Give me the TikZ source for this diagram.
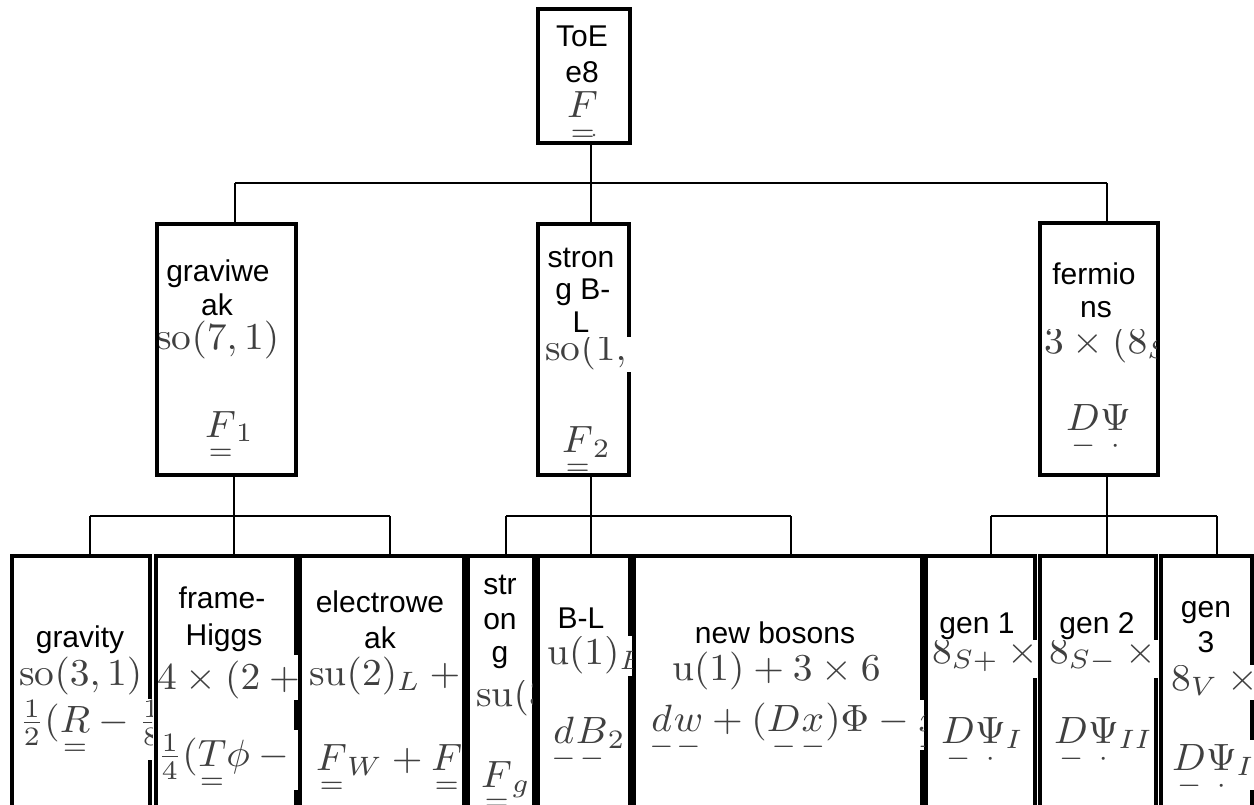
\documentclass[tikz,border=0pt]{standalone}
\usepackage{amsmath}
\usepackage{graphicx}
\usepackage{fontspec}
\newfontfamily\arialf{Liberation Sans}
\newcommand\mclip[8]{%
  \begin{scope}
    \clip (#2,#4) rectangle (#3,#5);
    \fill[white] (#2,#4) rectangle (#3,#5);
    \node[mth] (#1) at (#6,#7) {\scalebox{3.95}[3.8]{$#8$}};
  \end{scope}}
\newcommand\uF[1]{\smash[b]{\underset{#1}{F}}}
\newcommand\uD{\smash[b]{\underset{-}{D}}}
\newcommand\uPsi{\smash[b]{\underset{\cdot}{\Psi}}}
\newcommand\ul[1]{\smash[b]{\underset{-}{#1}}}
\tikzset{
  box/.style={draw=black, line width=4pt, rectangle, inner sep=0pt, outer sep=0pt},
  conn/.style={line width=2pt},
  lbl/.style={font=\arialf\fontsize{30}{34}\selectfont, anchor=base, inner sep=0pt},
  mth/.style={font=\fontsize{10}{12}\selectfont, anchor=base west, inner sep=0pt, text=black!75}
}
\begin{document}
\begin{tikzpicture}[x=1pt,y=-1pt]
\useasboundingbox (0,0) rectangle (1254,805);
% boxes
\node[box, minimum width=92pt, minimum height=134pt] (toe) at (584,76) {};
\node[box, minimum width=139pt, minimum height=251pt] (gw) at (226.5,349.5) {};
\node[box, minimum width=91pt, minimum height=251pt] (sbl) at (583.5,349.5) {};
\node[box, minimum width=118pt, minimum height=252pt] (ferm) at (1099,349) {};
\node[box, minimum width=138pt, minimum height=259pt] (grav) at (81,685.5) {};
\node[box, minimum width=140pt, minimum height=259pt] (frame) at (226,685.5) {};
\node[box, minimum width=164pt, minimum height=259pt] (ew) at (382,685.5) {};
\node[box, minimum width=66pt, minimum height=259pt] (strong) at (501,685.5) {};
\node[box, minimum width=92pt, minimum height=259pt] (bl) at (584,685.5) {};
\node[box, minimum width=288pt, minimum height=259pt] (nb) at (778,685.5) {};
\node[box, minimum width=109pt, minimum height=259pt] (ga) at (980.5,685.5) {};
\node[box, minimum width=116pt, minimum height=259pt] (gb) at (1098,685.5) {};
\node[box, minimum width=91pt, minimum height=259pt] (gc) at (1206.5,685.5) {};
% connectors
\coordinate (b0) at (591,183); \coordinate (b0l) at (235,183); \coordinate (b0r) at (1107,183);
\draw[conn] (toe.south -| b0) -- (b0);
\draw[conn] (b0l) -- (b0r);
\draw[conn] (b0l) -- (gw.north -| b0l);
\draw[conn] (b0) -- (sbl.north -| b0);
\draw[conn] (b0r) -- (ferm.north -| b0r);
\coordinate (b1) at (234,516); \coordinate (b1l) at (90,516); \coordinate (b1r) at (390,516);
\draw[conn] (gw.south -| b1) -- (b1);
\draw[conn] (b1l) -- (b1r);
\draw[conn] (b1l) -- (grav.north -| b1l);
\draw[conn] (b1) -- (frame.north -| b1);
\draw[conn] (b1r) -- (ew.north -| b1r);
\coordinate (b2) at (591,516); \coordinate (b2l) at (506,516); \coordinate (b2r) at (791,516);
\draw[conn] (sbl.south -| b2) -- (b2);
\draw[conn] (b2l) -- (b2r);
\draw[conn] (b2l) -- (strong.north -| b2l);
\draw[conn] (b2) -- (bl.north -| b2);
\draw[conn] (b2r) -- (nb.north -| b2r);
\coordinate (b3) at (1107,516); \coordinate (b3l) at (991,516); \coordinate (b3r) at (1217,516);
\draw[conn] (ferm.south -| b3) -- (b3);
\draw[conn] (b3l) -- (b3r);
\draw[conn] (b3l) -- (ga.north -| b3l);
\draw[conn] (b3) -- (gb.north -| b3);
\draw[conn] (b3r) -- (gc.north -| b3r);
% math lines
\mclip{mtoe}{540}{628}{86}{141}{567}{118}{\uF{=}}
\fill[black!70] (594,135) circle (1.4);
\mclip{mgwa}{159}{294}{318}{362}{156}{349}{\mathrm{so}(7,1)}
\mclip{mgwb}{159}{294}{400}{473}{205}{437}{\uF{=}_{\raisebox{3.3pt}{$\scriptstyle 1$}}}
\mclip{msbla}{540}{631}{337}{372}{545}{360}{\mathrm{so}(1,3)}
\mclip{msblb}{540}{627}{415}{473}{562}{452}{\uF{=}_2}
\mclip{mferma}{1042}{1156}{330}{366}{1044}{353}{3\times(8_{S}+8_{V})}
\mclip{mfermb}{1042}{1156}{400}{460}{1066}{430}{\uD\uPsi}
\mclip{mgrava}{14}{148}{655}{698}{19}{685}{\mathrm{so}(3,1)}
\mclip{mgravb}{14}{152}{699}{760}{19}{732}{\frac12(\smash[b]{\underset{=}{R}}-\frac18\phi)}
\mclip{mframea}{158}{298}{655}{700}{157}{689}{4\times(2+2)}
\mclip{mframeb}{158}{298}{730}{790}{157}{766}{\frac14(\smash[b]{\underset{=}{T}}\phi-\phi)}
\mclip{mewa}{302}{462}{655}{700}{309}{685}{\mathrm{su}(2)_L+\mathrm{u}(1)}
\mclip{mewb}{302}{462}{740}{795}{316}{770}{\uF{=}_W+\uF{=}_B}
\mclip{mstronga}{470}{532}{680}{718}{476}{706}{\mathrm{su}(3)}
\mclip{mstrongb}{470}{532}{760}{805}{481}{787}{\uF{=}_g}
\mclip{mbla}{540}{632}{636}{676}{547}{664}{\mathrm{u}(1)_{B-L}}
\mclip{mblb}{540}{628}{715}{765}{551}{743}{\ul{d}\ul{B}_2}
\mclip{mnba}{636}{920}{650}{693}{672}{680}{\mathrm{u}(1)+3\times6}
\mclip{mnbb}{636}{924}{700}{750}{649}{731}{\ul{d}\ul{w}+(\ul{D}\ul{x})\Phi-\ul{x}\Phi}
\mclip{mgaa}{928}{1037}{640}{678}{932}{663}{8_{S+}\times3}
\mclip{mgab}{928}{1033}{712}{765}{941}{743}{\uD\uPsi_I}
\mclip{mgba}{1042}{1158}{640}{678}{1049}{663}{8_{S-}\times3}
\mclip{mgbb}{1042}{1154}{712}{765}{1054}{743}{\uD\uPsi_{II}}
\mclip{mgca}{1163}{1254}{665}{700}{1171}{690}{8_V\times3}
\mclip{mgcb}{1163}{1254}{740}{790}{1172}{770}{\uD\uPsi_{III}}
% labels
\node[lbl] (ttoea) at (582,47) {ToE};
\node[lbl] (ttoeb) at (582,83) {e8};
\node[lbl] (tgwa) at (218,282) {graviwe};
\node[lbl] (tgwb) at (217,316) {ak};
\node[lbl] (tsbla) at (581,268) {stron};
\node[lbl] (tsblb) at (583,300) {g B-};
\node[lbl] (tsblc) at (581,333) {L};
\node[lbl] (tferma) at (1094,285) {fermio};
\node[lbl] (tfermb) at (1096,318) {ns};
\node[lbl] (tgrav) at (80,647) {gravity};
\node[lbl] (tframea) at (222,608) {frame-};
\node[lbl] (tframeb) at (224,645) {Higgs};
\node[lbl] (tewa) at (380,612) {electrowe};
\node[lbl] (tewb) at (380,648) {ak};
\node[lbl] (tstronga) at (500,594) {str};
\node[lbl] (tstrongb) at (500,629) {on};
\node[lbl] (tstrongc) at (500,662) {g};
\node[lbl] (tbl) at (581,628) {B-L};
\node[lbl] (tnb) at (775,643) {new bosons};
\node[lbl] (tga) at (977,633) {gen 1};
\node[lbl] (tgb) at (1097,633) {gen 2};
\node[lbl] (tgca) at (1206,617) {gen};
\node[lbl] (tgcb) at (1206,652) {3};
\end{tikzpicture}
\end{document}
